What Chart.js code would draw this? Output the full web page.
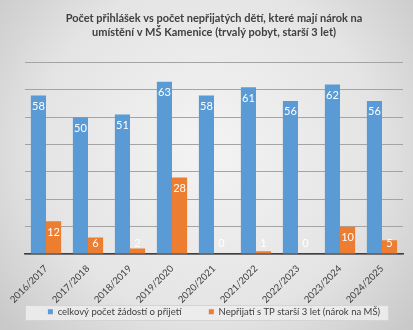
<!DOCTYPE html>
<html><head><meta charset="utf-8">
<script src="https://cdn.jsdelivr.net/npm/chart.js@4"></script>
<style>html,body{margin:0;padding:0;background:#fff}#w{width:413px;height:330px}</style>
</head><body><div id="w"><canvas id="c" width="413" height="330"></canvas></div>
<script>
const categories = ["2016/2017","2017/2018","2018/2019","2019/2020","2020/2021","2021/2022","2022/2023","2023/2024","2024/2025"];
const totalRequests = [58,50,51,63,58,61,56,62,56];
const rejectedTP3 = [12,6,2,28,0,1,0,10,5];
const seriesNames = ["celkový počet žádostí o přijetí","Nepřijatí s TP starší 3 let (nárok na MŠ)"];
const titleLines = ["Počet přihlášek vs počet nepřijatých dětí, které mají nárok na","umístění v MŠ Kamenice (trvalý pobyt, starší 3 let)"];

const FONT = 'Lato';

const legendFitPlugin = {
  id:'legendFit',
  afterInit(chart){
    const lg = chart.legend;
    if (!lg) return;
    const orig = lg.fit.bind(lg);
    lg.fit = function(){ orig(); this.height = 17; };
  }
};

const bgPlugin = {
  id:'bg',
  beforeDraw(chart){
    const {ctx,width,height} = chart;
    ctx.save();
    const g = ctx.createRadialGradient(width/2,height*0.45,20,width/2,height*0.45,width*0.65);
    g.addColorStop(0,'#f2f2f2');
    g.addColorStop(0.6,'#e4e4e4');
    g.addColorStop(1,'#c9c9c9');
    ctx.fillStyle = g;
    ctx.fillRect(0,0,width,height);
    const L = chart.legend;
    if (L) {
      ctx.fillStyle = 'rgba(236,236,236,0.9)';
      ctx.strokeStyle = '#d4d4d4';
      ctx.lineWidth = 1;
      const x0 = 25, x1 = 388;
      const cy = L.top + 9;
      ctx.fillRect(x0, cy-8, x1-x0, 16);
      ctx.strokeRect(x0+0.5, cy-7.5, x1-x0, 15);
    }
    ctx.restore();
  }
};

const labelPlugin = {
  id:'vlabels',
  afterDatasetsDraw(chart){
    const ctx = chart.ctx;
    const base = chart.scales.y.getPixelForValue(0);
    ctx.save();
    ctx.fillStyle = '#ffffff';
    ctx.font = '11px ' + FONT;
    ctx.textAlign = 'center';
    ctx.textBaseline = 'middle';
    chart.data.datasets.forEach((ds,i)=>{
      chart.getDatasetMeta(i).data.forEach((bar,j)=>{
        const y = Math.min(bar.y+11, base-11);
        ctx.fillText(String(ds.data[j]), bar.x, y);
      });
    });
    ctx.restore();
  }
};

new Chart(document.getElementById('c'), {
  type:'bar',
  data:{
    labels: categories,
    datasets:[
      {label: seriesNames[0], data: totalRequests, backgroundColor:'#5B9BD5', borderWidth:0},
      {label: seriesNames[1], data: rejectedTP3, backgroundColor:'#ED7D31', borderWidth:0}
    ]
  },
  options:{
    responsive:false,
    animation:false,
    devicePixelRatio:1,
    layout:{padding:{left:25,right:10,top:4,bottom:9}},
    datasets:{bar:{categoryPercentage:0.72, barPercentage:1.0}},
    scales:{
      x:{
        grid:{display:false},
        border:{display:true,color:'#404040',width:1.5},
        ticks:{color:'#404040',font:{family:FONT,size:9.5},maxRotation:45,minRotation:45,padding:1},
        afterFit(s){ s.height = 50; }
      },
      y:{
        min:0,max:70,
        ticks:{display:false,stepSize:10},
        grid:{color:'#a4a4a4',lineWidth:1,drawTicks:false},
        border:{display:false}
      }
    },
    plugins:{
      title:{display:true,text:titleLines,color:'#404040',font:{family:FONT,size:11,weight:'bold',lineHeight:1.3},padding:{top:7,bottom:23}},
      legend:{position:'bottom',labels:{
        boxWidth:5,boxHeight:5,color:'#404040',font:{family:FONT,size:9.5},padding:3,
        generateLabels(chart){
          const items = Chart.defaults.plugins.legend.labels.generateLabels(chart);
          items.forEach((it,i)=>{ if(i < items.length-1) it.text = it.text + '\u00a0'.repeat(10); });
          return items;
        }
      }},
      tooltip:{enabled:false}
    }
  },
  plugins:[legendFitPlugin,bgPlugin,labelPlugin]
});
</script></body></html>
